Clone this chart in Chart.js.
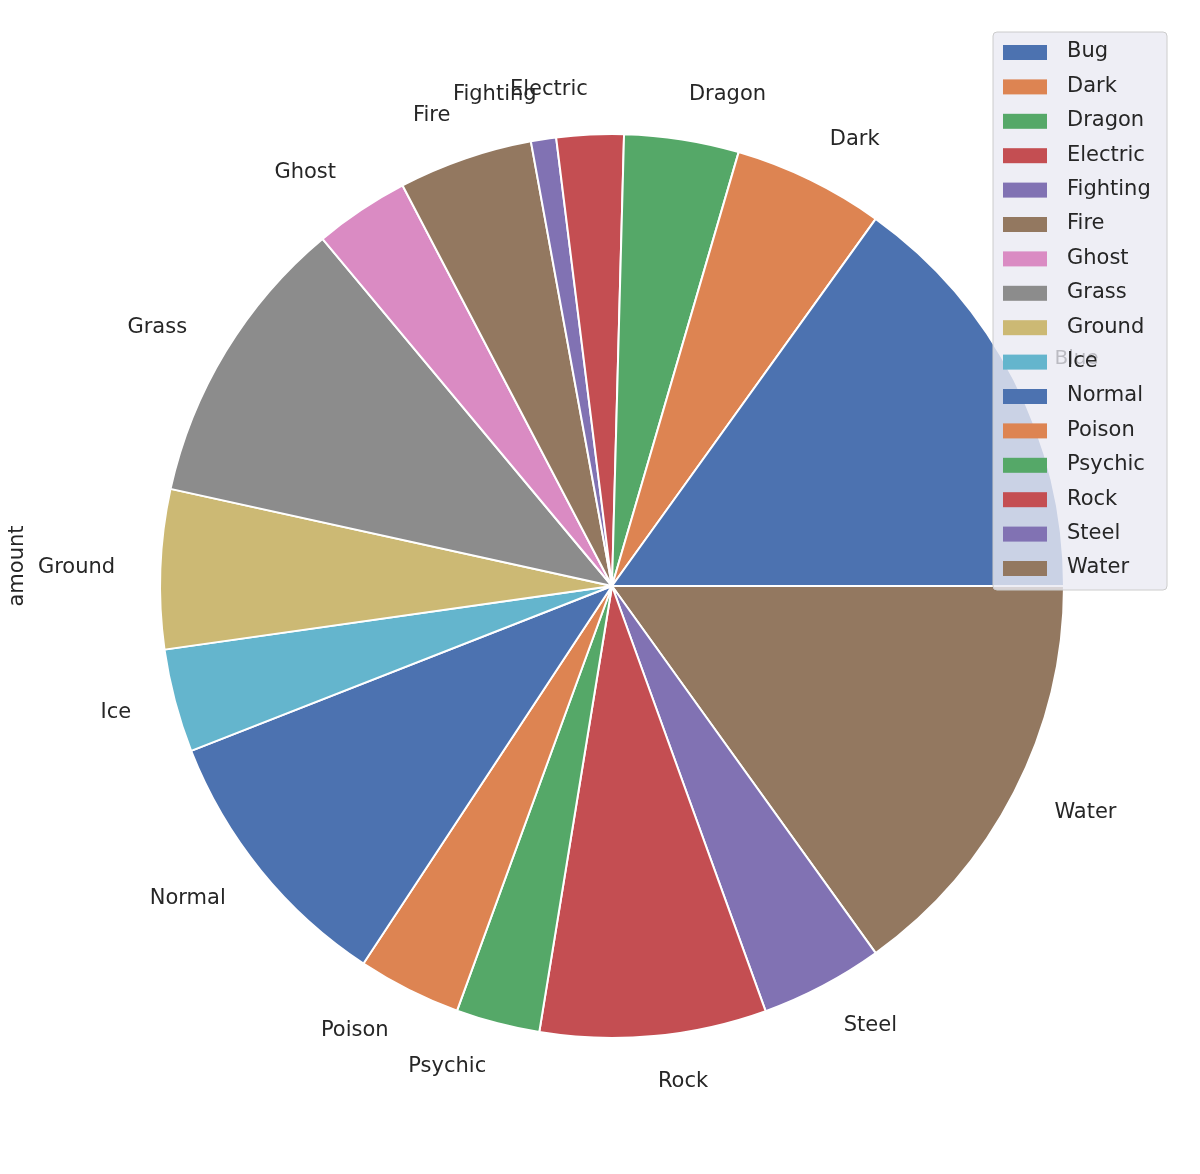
<!DOCTYPE html>
<html><head><meta charset="utf-8">
<script src="https://cdn.jsdelivr.net/npm/chart.js@4"></script>
<style>body{margin:0;background:#fff}#wrap{width:1200px;height:1174px}</style>
</head><body><div id="wrap"><canvas id="c"></canvas></div>
<script>
// types in legend order, drawn counterclockwise from 3 o'clock
const types = ["Bug","Dark","Dragon","Electric","Fighting","Fire","Ghost","Grass","Ground","Ice","Normal","Poison","Psychic","Rock","Steel","Water"];
const sliceLabels = ["Blue","Dark","Dragon","Electric","Fighting","Fire","Ghost","Grass","Ground","Ice","Normal","Poison","Psychic","Rock","Steel","Water"];
const amount = [151,54,41,24,9,48,34,105,57,37,98,37,30,81,44,151];
const palette = ["#4c72b0","#dd8452","#55a868","#c44e52","#8172b3","#937860","#da8bc3","#8c8c8c","#ccb974","#64b5cd"];
const colors = types.map((t, i) => palette[i % palette.length]);

const font = '"DejaVu Sans", sans-serif';

const extras = {
  id: "extras",
  afterDatasetsDraw(chart) {
    const ctx = chart.ctx;
    const arcs = chart.getDatasetMeta(0).data;
    ctx.save();
    ctx.fillStyle = "#262626";
    ctx.textBaseline = "middle";
    arcs.forEach((a, j) => {
      const i = types.length - 1 - j;
      const mid = (a.startAngle + a.endAngle) / 2;
      const r = a.outerRadius * 1.1;
      const x = a.x + Math.cos(mid) * r, y = a.y + Math.sin(mid) * r;
      ctx.font = i === 0 ? "20px " + font : "21px " + font;
      ctx.fillStyle = i === 0 ? "#000" : "#262626";
      ctx.textAlign = Math.cos(mid) >= 0 ? "left" : "right";
      ctx.fillText(sliceLabels[i], x, y);
    });
    // y label
    ctx.fillStyle = "#262626";
    ctx.font = "21px " + font;
    ctx.translate(18, 566);
    ctx.rotate(-Math.PI / 2);
    ctx.textAlign = "center";
    ctx.fillText("amount", 0, 0);
    ctx.restore();

    // legend
    ctx.save();
    ctx.fillStyle = "rgba(234,234,242,0.8)";
    ctx.strokeStyle = "#cccccc";
    ctx.lineWidth = 1;
    ctx.beginPath();
    ctx.roundRect(993, 32, 174, 558, 4);
    ctx.fill(); ctx.stroke();
    ctx.font = "21px " + font;
    ctx.textBaseline = "middle";
    ctx.textAlign = "left";
    types.forEach((t, i) => {
      const y = 52 + i * 34.4;
      ctx.fillStyle = colors[i];
      ctx.fillRect(1003, y - 7, 44, 15);
      ctx.fillStyle = "#262626";
      ctx.fillText(t, 1067, y);
    });
    ctx.restore();
  }
};

new Chart(document.getElementById("c"), {
  type: "pie",
  data: {
    labels: types.slice().reverse(),
    datasets: [{
      data: amount.slice().reverse(),
      backgroundColor: colors.slice().reverse(),
      borderColor: "#ffffff",
      borderWidth: 2
    }]
  },
  options: {
    responsive: true,
    maintainAspectRatio: false,
    animation: false,
    rotation: 90,
    layout: { padding: { left: 159, right: 135, top: 133, bottom: 135 } },
    plugins: { legend: { display: false }, tooltip: { enabled: false } }
  },
  plugins: [extras]
});
</script>
</body></html>
